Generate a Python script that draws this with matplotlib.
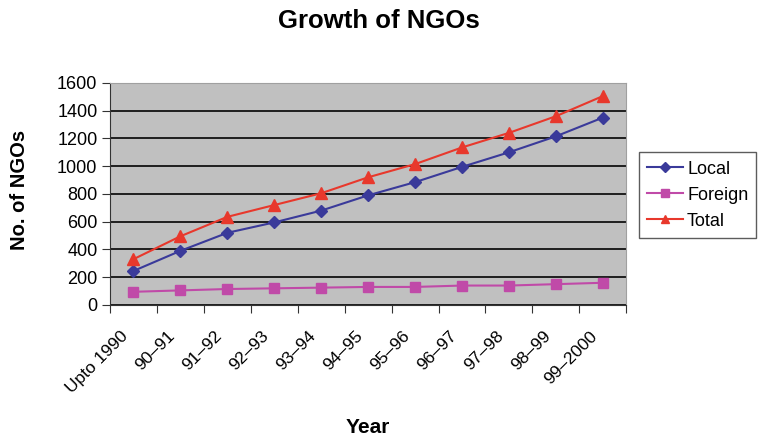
import numpy as np
import matplotlib
matplotlib.use("Agg")
import matplotlib.pyplot as plt
import matplotlib.transforms as mtransforms

plt.rcParams['font.family'] = ['Liberation Sans', 'DejaVu Sans']

years = ["Upto 1990", "90\u201391", "91\u201392", "92\u201393", "93\u201394", "94\u201395",
         "95\u201396", "96\u201397", "97\u201398", "98\u201399", "99\u20132000"]
local = [245, 390, 520, 595, 680, 790, 885, 995, 1100, 1215, 1350]
foreign = [95, 105, 115, 120, 125, 130, 130, 140, 140, 150, 160]
total = [330, 495, 635, 720, 805, 920, 1015, 1135, 1240, 1360, 1505]

fig = plt.figure(figsize=(7.66, 4.38), dpi=100)
ax = fig.add_axes([0.1436, 0.3037, 0.674, 0.507])
ax.set_facecolor('#c0c0c0')

x = np.arange(len(years))
ax.plot(x, local, color='#3a3a9a', marker='D', markersize=6, lw=1.5, label='Local')
ax.plot(x, foreign, color='#c04aa8', marker='s', markersize=7, lw=1.5, label='Foreign')
ax.plot(x, total, color='#e8382c', marker='^', markersize=8, lw=1.5, label='Total')

ax.set_xlim(-0.5, len(years) - 0.5)
ax.set_ylim(0, 1600)
ax.set_yticks(range(0, 1601, 200))
ax.yaxis.grid(True, color='#1e1e1e', lw=1.4)
ax.set_axisbelow(True)

# ticks between categories, labels centred on points
ax.set_xticks(np.arange(len(years) + 1) - 0.5)
ax.set_xticklabels([])
ax.set_xticks(x, minor=True)
ax.set_xticklabels(years, minor=True, rotation=45, ha='right', va='top',
                   rotation_mode='anchor', fontsize=12.5)
ax.tick_params(axis='x', which='minor', length=0, pad=17)
ax.tick_params(axis='x', which='major', length=6, color='#333333')
ax.tick_params(axis='y', length=6, labelsize=13, color='#333333', pad=3)
shift = mtransforms.ScaledTranslation(-13 / 100, 0, fig.dpi_scale_trans)
for lab in ax.get_xticklabels(minor=True):
    lab.set_transform(lab.get_transform() + shift)

for s in ['top', 'right']:
    ax.spines[s].set_color('#a0a0a0')
for s in ['left', 'bottom']:
    ax.spines[s].set_color('#333333')

fig.text(0.026, 0.566, "No. of NGOs", fontsize=14.5, fontweight='bold',
         rotation=90, ha='center', va='center')
fig.text(0.48, 0.024, "Year", fontsize=15, fontweight='bold', ha='center', va='center')
fig.text(0.494, 0.952, "Growth of NGOs", fontsize=18.5, fontweight='bold',
         ha='center', va='center')

leg = ax.legend(loc='center left', bbox_to_anchor=(1.025, 0.495), fontsize=13, frameon=True,
                fancybox=False, edgecolor='#333333', handlelength=2.0, borderpad=0.45,
                labelspacing=0.5, handletextpad=0.2, borderaxespad=0, markerscale=0.8)
leg.get_frame().set_linewidth(1)

fig.savefig("out.png", dpi=100)
